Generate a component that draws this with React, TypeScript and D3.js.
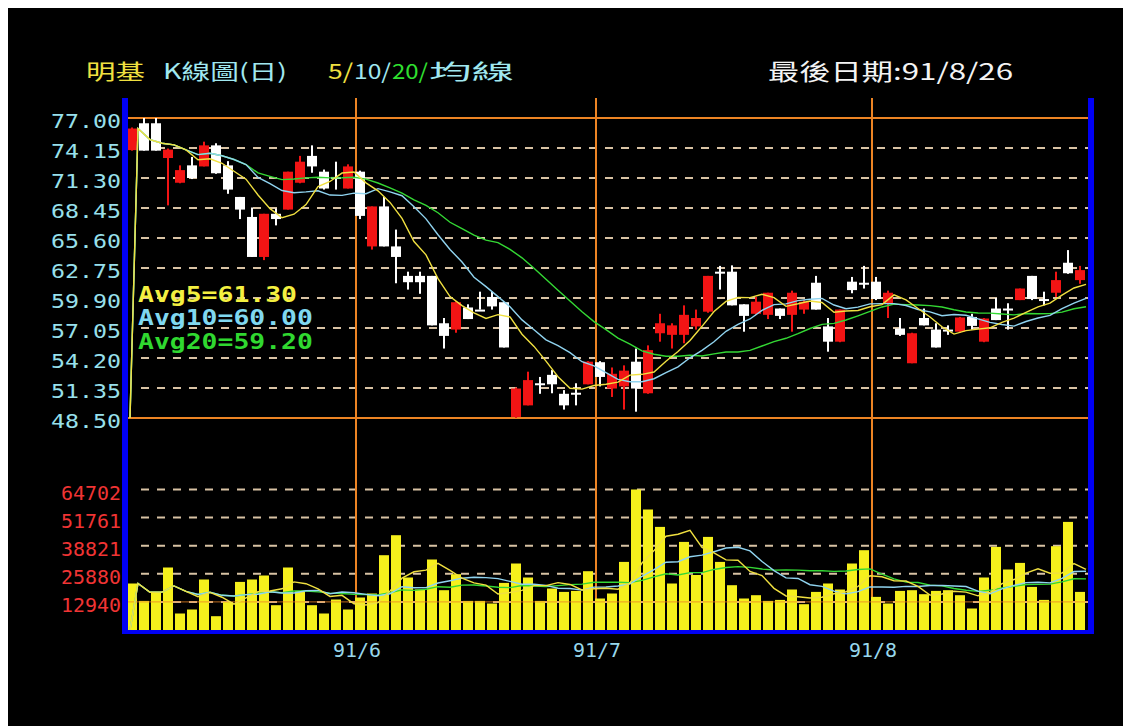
import React from 'react';
import * as d3 from 'd3';

// ---- Data ----
const opens = [73.95, 76.5, 76.5, 73.2, 70.85, 72.5, 72.4, 74.4, 72.5, 69.5,
  67.6, 63.8, 67.9, 68.3, 70.85, 73.4, 71.9, 71.4, 70.3, 71.9,
  64.8, 68.6, 64.8, 62.0, 62.0, 62.0, 57.5, 56.9, 59.0, 58.8,
  60.0, 59.5, 48.6, 49.7, 51.8, 52.6, 50.8, 50.9, 51.7, 53.8,
  51.3, 51.5, 53.85, 50.85, 56.55, 56.4, 56.4, 57.2, 58.6, 62.4,
  62.4, 59.3, 58.4, 58.3, 58.9, 58.3, 58.8, 61.35, 57.2, 55.75,
  61.45, 61.35, 61.45, 59.4, 57.0, 53.7, 58.0, 56.9, 56.9, 56.7,
  58.1, 55.75, 58.9, 58.9, 59.7, 62.0, 59.8, 60.4, 63.25, 61.6];
const highs = [76.1, 77.0, 77.0, 74.1, 72.5, 73.3, 74.75, 74.6, 72.9, 69.5,
  68.5, 67.9, 68.4, 71.9, 73.4, 74.4, 72.1, 72.85, 72.6, 72.0,
  68.6, 69.5, 66.4, 62.4, 62.4, 62.0, 58.0, 59.6, 59.3, 60.5,
  60.5, 59.5, 51.4, 52.9, 52.4, 53.05, 51.15, 51.8, 53.9, 53.9,
  53.3, 53.5, 55.1, 55.4, 58.4, 57.5, 59.2, 58.8, 62.0, 62.95,
  63.0, 59.3, 60.0, 60.4, 58.9, 60.6, 59.7, 62.0, 58.0, 58.8,
  61.9, 62.95, 61.9, 60.6, 58.0, 56.6, 58.9, 57.5, 57.3, 58.1,
  58.4, 58.0, 59.9, 59.4, 60.8, 62.0, 60.5, 62.4, 64.45, 62.95];
const lows = [73.9, 73.9, 73.9, 68.7, 70.8, 71.2, 72.4, 71.7, 69.8, 67.4,
  63.8, 63.5, 66.8, 68.3, 70.8, 71.8, 70.2, 70.2, 70.3, 67.4,
  64.5, 64.8, 61.3, 60.7, 60.3, 57.3, 55.1, 56.6, 57.9, 58.8,
  58.8, 55.2, 48.5, 49.7, 50.8, 50.85, 49.3, 49.7, 51.7, 51.5,
  50.5, 49.3, 49.1, 50.8, 55.75, 55.1, 55.6, 56.9, 58.5, 60.7,
  59.2, 56.7, 58.3, 57.9, 57.9, 56.7, 58.4, 58.8, 54.8, 55.7,
  60.35, 60.8, 59.7, 58.0, 56.3, 53.7, 57.3, 55.2, 56.4, 56.6,
  56.9, 55.7, 57.8, 56.9, 59.7, 59.7, 59.2, 60.0, 62.2, 61.25];
const closes = [76.0, 73.9, 73.9, 74.0, 72.05, 71.3, 74.4, 71.75, 70.2, 68.3,
  63.8, 67.9, 67.4, 71.9, 72.85, 72.4, 70.3, 71.4, 72.4, 67.7,
  68.6, 64.8, 63.8, 61.4, 61.4, 57.3, 56.3, 59.5, 57.9, 58.8,
  59.1, 55.2, 51.3, 52.1, 51.8, 51.7, 49.7, 50.9, 53.85, 52.4,
  52.7, 53.0, 51.3, 54.95, 57.5, 57.3, 58.3, 58.0, 62.0, 62.3,
  59.2, 58.2, 59.55, 60.4, 58.2, 60.4, 59.55, 58.8, 55.75, 58.8,
  60.65, 61.35, 59.8, 60.4, 56.4, 56.55, 57.3, 55.2, 56.9, 58.05,
  57.25, 57.95, 57.8, 58.9, 60.8, 59.8, 59.8, 61.6, 62.25, 62.55];
const volumes = [21414, 13400, 17545, 28781, 7598, 9440, 23255, 6355, 12940, 22150,
  23255, 25097, 11420, 28781, 18005, 11420, 7598, 14045, 9440, 14966,
  16808, 34445, 43655, 24176, 18650, 32465, 18330, 25696, 13400, 13400,
  12200, 21690, 30620, 24176, 13400, 19110, 17545, 18005, 27077, 14505,
  16808, 31360, 64700, 55490, 47480, 21414, 40570, 25330, 42874, 31360,
  20630, 14505, 16025, 13400, 13860, 18650, 11880, 17545, 21414, 18650,
  30620, 36750, 15250, 12200, 18005, 18330, 16490, 18005, 18330, 16025,
  9900, 24176, 38270, 27860, 30900, 19850, 13860, 38590, 49780, 17545];

const priceTicks = [48.5, 51.35, 54.2, 57.05, 59.9, 62.75, 65.6, 68.45, 71.3, 74.15, 77.0];
const volTicks = [12940, 25880, 38821, 51761, 64702];
const monthLabels = ['91/6', '91/7', '91/8'];
const monthStarts = [19, 39, 62];
const avgLabels = ['Avg5=61.30', 'Avg10=60.00', 'Avg20=59.20'];
const maPeriods = [5, 10, 20];

const titleParts = [
  { t: '明基', c: '#f0e040', x0: 86, x1: 145 },
  { t: 'K線圖(日)', c: '#a0e8f0', x0: 163, x1: 287 },
  { t: '5/', c: '#f0e040', x0: 328, x1: 353 },
  { t: '10/', c: '#a0e8f0', x0: 354, x1: 391 },
  { t: '20/', c: '#30e030', x0: 392, x1: 428 },
  { t: '均線', c: '#a0e8f0', x0: 429, x1: 514 },
];
const lastDateText = '最後日期:91/8/26';

// ---- Style ----
const ORANGE = '#ec8424';
const DASH = '#d8c2a4';
const BLUE = '#0000f4';
const RED = '#f21414';
const WHITE = '#ffffff';
const BARY = '#f6f01c';
const maColors = ['#f0e040', '#90d4f0', '#34d834'];
const avgTextColors = ['#f4f040', '#80d8f0', '#30d830'];
const MONO = "'DejaVu Sans Mono', monospace";
const CJK = "'Noto Sans CJK TC', 'Noto Sans CJK SC', sans-serif";

function movingAvg(arr: number[], n: number): number[] {
  return arr.map((_, i) => d3.mean(arr.slice(Math.max(0, i - n + 1), i + 1)) as number);
}

export default function App() {
  const N = closes.length;
  const xb = d3.scaleBand<number>().domain(d3.range(N)).range([126, 126 + 12 * N]).padding(0);
  const xc = (i: number) => (xb(i) as number) + xb.bandwidth() / 2;
  const y = d3.scaleLinear().domain([48.5, 77]).range([418, 118]);
  const yv = d3.scaleLinear().domain([0, 64702]).range([630, 489.5]);

  const plotL = 128, plotR = 1088;

  const maLine = (vals: number[], ys: d3.ScaleLinear<number, number>, base: number) => {
    const pts: [number, number][] = [[xc(0) - 2, ys(base)]];
    vals.forEach((v, i) => pts.push([xc(i) + 6, ys(v)]));
    return d3.line()(pts) as string;
  };

  const priceMAs = maPeriods.map(p => movingAvg(closes, p));
  const volMAs = maPeriods.map(p => movingAvg(volumes, p));

  return (
    <svg width={1115} height={718} style={{ position: 'absolute', left: 8, top: 8, display: 'block' }}>
      <g transform="translate(-8,-8)">
        <rect x={8} y={8} width={1115} height={718} fill="#000" />

        {/* dashed grid - price */}
        {priceTicks.slice(1, -1).map((t, k) => (
          <line key={'pg' + k} x1={141} x2={plotR} y1={y(t)} y2={y(t)} stroke={DASH} strokeWidth={2} strokeDasharray="8 8" />
        ))}
        {/* dashed grid - volume */}
        {volTicks.map((t, k) => (
          <line key={'vg' + k} x1={141} x2={plotR} y1={yv(t)} y2={yv(t)} stroke={DASH} strokeWidth={2} strokeDasharray="8 8" />
        ))}
        {/* solid orange top/bottom price */}
        {[priceTicks[0], priceTicks[priceTicks.length - 1]].map((t, k) => (
          <line key={'po' + k} x1={plotL} x2={plotR} y1={y(t)} y2={y(t)} stroke={ORANGE} strokeWidth={2} />
        ))}
        {/* month vertical lines */}
        {monthStarts.map((m, k) => (
          <line key={'ml' + k} x1={(xb(m) as number) + 2} x2={(xb(m) as number) + 2} y1={98} y2={630} stroke={ORANGE} strokeWidth={2} />
        ))}

        {/* candles */}
        {closes.map((c, i) => {
          const o = opens[i];
          const col = c > o ? RED : WHITE;
          const top = y(Math.max(o, c));
          const h = Math.max(Math.abs(y(o) - y(c)), 2);
          return (
            <g key={'c' + i}>
              <rect x={xc(i) - 1} y={y(highs[i])} width={2} height={Math.max(y(lows[i]) - y(highs[i]), 1)} fill={col} />
              <rect x={xc(i) - 5} y={top} width={10} height={h} fill={col} />
            </g>
          );
        })}

        {/* volume bars */}
        {volumes.map((v, i) => (
          <rect key={'v' + i} x={xc(i) - 5} y={yv(v)} width={10} height={yv(0) - yv(v)} fill={BARY} />
        ))}
        <line x1={plotL} x2={plotR} y1={yv(volTicks[0])} y2={yv(volTicks[0])} stroke={ORANGE} strokeWidth={1} opacity={0.8} />

        {/* MA lines */}
        {[2, 1, 0].map(k => (
          <path key={'pm' + k} d={maLine(priceMAs[k], y, 48.5)} fill="none" stroke={maColors[k]} strokeWidth={1.4} />
        ))}
        {[2, 1, 0].map(k => (
          <path key={'vm' + k} d={maLine(volMAs[k], yv, 0)} fill="none" stroke={maColors[k]} strokeWidth={1.4} />
        ))}

        {/* blue frame */}
        <rect x={122} y={98} width={6} height={536} fill={BLUE} />
        <rect x={1088} y={98} width={6} height={536} fill={BLUE} />
        <rect x={122} y={630} width={972} height={4} fill={BLUE} />

        {/* price axis labels */}
        {priceTicks.map((t, k) => (
          <text key={'pl' + k} x={51} y={y(t) + 10} fill="#98e0ec" fontFamily={MONO} fontSize={19}
            textLength={70} lengthAdjust="spacingAndGlyphs">{t.toFixed(2)}</text>
        ))}
        {/* volume axis labels */}
        {volTicks.map((t, k) => (
          <text key={'vl' + k} x={61} y={yv(t) + 10} fill="#f03434" fontFamily={MONO} fontSize={19}
            textLength={60} lengthAdjust="spacingAndGlyphs">{String(t)}</text>
        ))}
        {/* month labels */}
        {monthLabels.map((m, k) => (
          <text key={'mx' + k} x={(xb(monthStarts[k]) as number) + 3} y={657} fill="#98d8ec" fontFamily={MONO}
            fontSize={20} textAnchor="middle" textLength={48} lengthAdjust="spacingAndGlyphs">{m}</text>
        ))}

        {/* Avg labels */}
        {avgLabels.map((a, k) => (
          <text key={'al' + k} x={138} y={[302, 325, 349][k]} fill={avgTextColors[k]} fontFamily={MONO}
            fontWeight="bold" fontSize={21} textLength={a.length * 15.9} lengthAdjust="spacingAndGlyphs">{a}</text>
        ))}

        {/* title */}
        {titleParts.map((p, k) => (
          <text key={'tt' + k} x={p.x0} y={79} fill={p.c} fontFamily={CJK} fontSize={21}
            textLength={p.x1 - p.x0} lengthAdjust="spacingAndGlyphs">{p.t}</text>
        ))}
        <text x={768} y={80} fill="#f4f4f4" fontFamily={CJK} fontSize={23} textLength={245} lengthAdjust="spacingAndGlyphs">{lastDateText}</text>
      </g>
    </svg>
  );
}
